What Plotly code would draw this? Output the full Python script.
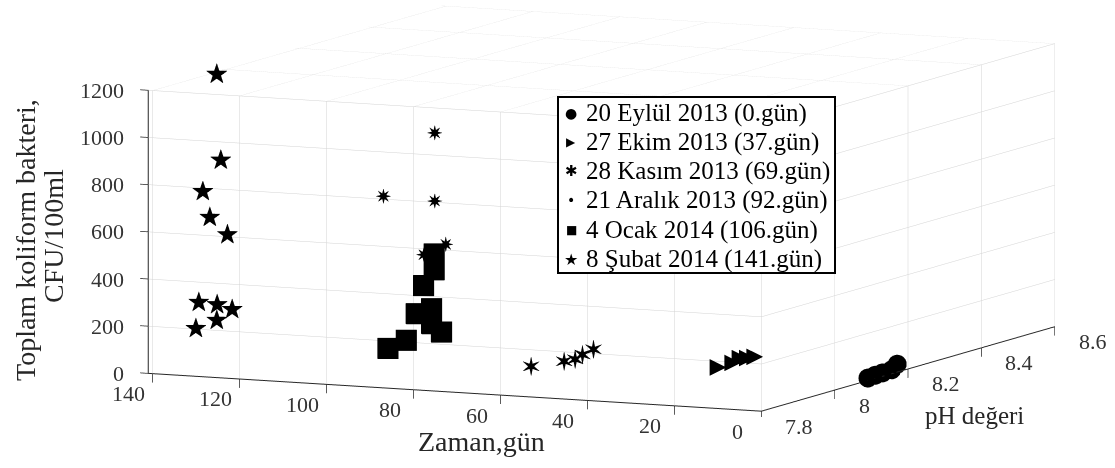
import plotly.graph_objects as go

FONT = "Liberation Serif"
GLYPH_FONT = "DejaVu Sans"
W, H = 1115, 468

# Sampling days (Zaman, gün) for each campaign
t_d0 = [0, 0, 0, 0, 0]
t_d37 = [37, 37, 37, 37, 37]
t_d69 = [69, 69, 69, 69, 69]
t_d92 = [92, 92, 92, 92, 92]
t_d106 = [106, 106, 106, 106, 106, 106, 106, 106, 106]
t_d141 = [141, 141, 141, 141, 141, 141, 141, 141, 141, 141]

# pH values
ph_d0 = [8.09, 8.11, 8.13, 8.155, 8.17]
ph_d37 = [8.12, 8.16, 8.18, 8.20, 8.22]
ph_d69 = [7.99, 8.08, 8.11, 8.13, 8.16]
ph_d92 = [8.00, 7.86, 8.00, 8.03, 7.97]
ph_d106 = [8.164, 8.164, 8.135, 8.115, 8.157, 8.157, 8.184, 8.088, 8.038]
ph_d141 = [7.986, 7.997, 7.948, 7.967, 8.015, 7.937, 7.987, 8.028, 7.986, 7.929]

# Total coliform counts (CFU/100ml)
cfu_d0 = [12, 15, 16, 18, 35]
cfu_d37 = [1, 2, 13, 5, 1]
cfu_d69 = [27, 8, 3, 14, 23]
cfu_d92 = [986, 780, 697, 500, 483]
cfu_d106 = [385, 318, 264, 154, 156, 93, 45, 53, 41]
cfu_d141 = [1190, 821, 710, 592, 497, 245, 213, 174, 147, 138]

legend_names = [
    "20 Eylül 2013 (0.gün)",
    "27 Ekim 2013 (37.gün)",
    "28 Kasım 2013 (69.gün)",
    "21 Aralık 2013 (92.gün)",
    "4 Ocak 2014 (106.gün)",
    "8 Şubat 2014 (141.gün)",
]
legend_glyphs = ["●", "▶", "✱", "•", "■", "★"]
legend_glyph_sizes = [14, 12, 15, 14, 12, 16]

time_ticks = [0, 20, 40, 60, 80, 100, 120, 140]
time_tick_text = ["0", "20", "40", "60", "80", "100", "120", "140"]
ph_ticks = [7.8, 8.0, 8.2, 8.4, 8.6]
ph_tick_text = ["7.8", "8", "8.2", "8.4", "8.6"]
cfu_ticks = [0, 200, 400, 600, 800, 1000, 1200]
cfu_tick_text = ["0", "200", "400", "600", "800", "1000", "1200"]

T_RANGE = [0, 141]
PH_RANGE = [7.8, 8.6]
CFU_RANGE = [0, 1200]

fig = go.Figure()

# 3D marks: native glyphs where scatter3d offers them, text glyphs otherwise
glyph_text = dict(mode="text", textposition="middle center", showlegend=False)
fig.add_trace(go.Scatter3d(x=t_d0, y=ph_d0, z=cfu_d0, mode="markers",
                           marker=dict(symbol="circle", size=11, color="black"),
                           name=legend_names[0], showlegend=False))
fig.add_trace(go.Scatter3d(x=t_d37, y=ph_d37, z=cfu_d37, text=["▶"] * len(t_d37),
                           textfont=dict(family=GLYPH_FONT, size=22, color="black"),
                           name=legend_names[1], **glyph_text))
fig.add_trace(go.Scatter3d(x=t_d69, y=ph_d69, z=cfu_d69, text=["✶"] * len(t_d69),
                           textfont=dict(family=GLYPH_FONT, size=27, color="black"),
                           name=legend_names[2], **glyph_text))
fig.add_trace(go.Scatter3d(x=t_d92, y=ph_d92, z=cfu_d92, text=["✷"] * len(t_d92),
                           textfont=dict(family=GLYPH_FONT, size=21, color="black"),
                           name=legend_names[3], **glyph_text))
fig.add_trace(go.Scatter3d(x=t_d106, y=ph_d106, z=cfu_d106, mode="markers",
                           marker=dict(symbol="square", size=11, color="black"),
                           name=legend_names[4], showlegend=False))
fig.add_trace(go.Scatter3d(x=t_d141, y=ph_d141, z=cfu_d141, text=["★"] * len(t_d141),
                           textfont=dict(family=GLYPH_FONT, size=28, color="black"),
                           name=legend_names[5], **glyph_text))

axis_common = dict(
    showbackground=False,
    showgrid=True,
    gridcolor="#d3d3d3",
    gridwidth=1,
    showline=True,
    linecolor="#262626",
    linewidth=2,
    ticks="outside",
    ticklen=9,
    tickwidth=1.5,
    tickcolor="#262626",
    showticklabels=False,
    zeroline=False,
    showspikes=False,
    title=dict(text=""),
)

# Tick labels anchored at the tick positions in data space
tick_font = dict(family=FONT, size=22, color="#333333")
scene_annotations = []
for tv, tt in zip(time_ticks, time_tick_text):
    scene_annotations.append(dict(x=tv, y=PH_RANGE[0], z=CFU_RANGE[0], text=tt,
                                  showarrow=False, xanchor="center", yanchor="middle",
                                  xshift=-24, yshift=-20, font=tick_font))
for pv, pt in zip(ph_ticks, ph_tick_text):
    scene_annotations.append(dict(x=T_RANGE[0], y=pv, z=CFU_RANGE[0], text=pt,
                                  showarrow=False, xanchor="left", yanchor="middle",
                                  xshift=22, yshift=-15, font=tick_font))
for cv, ct in zip(cfu_ticks, cfu_tick_text):
    scene_annotations.append(dict(x=T_RANGE[1], y=PH_RANGE[0], z=cv, text=ct,
                                  showarrow=False, xanchor="right", yanchor="middle",
                                  xshift=-22, yshift=0, font=tick_font))

# Legend box with one row per sampling campaign
box_l, box_r, box_t, box_b = 557, 836, 96, 274
row_y = [113, 142, 171, 200, 230, 259]
annotations = [
    dict(text=" ", xref="paper", yref="paper",
         x=(box_l + box_r) / 2 / W, y=1 - (box_t + box_b) / 2 / H,
         xanchor="center", yanchor="middle", showarrow=False,
         width=box_r - box_l - 4, height=box_b - box_t - 4, borderpad=0,
         bgcolor="white", bordercolor="black", borderwidth=2),
]
for yy, glyph, gsz, name in zip(row_y, legend_glyphs, legend_glyph_sizes, legend_names):
    annotations.append(dict(text=glyph, xref="paper", yref="paper",
                            x=571 / W, y=1 - yy / H, xanchor="center", yanchor="middle",
                            showarrow=False,
                            font=dict(family=GLYPH_FONT, size=gsz, color="black")))
    annotations.append(dict(text=name, xref="paper", yref="paper",
                            x=584 / W, y=1 - yy / H, xanchor="left", yanchor="middle",
                            showarrow=False,
                            font=dict(family=FONT, size=25, color="black")))

# Axis titles
title_font = dict(family=FONT, size=28, color="#262626")
annotations += [
    dict(text="Toplam koliform bakteri,", xref="paper", yref="paper",
         x=26 / W, y=1 - 240 / H, textangle=-90, showarrow=False,
         xanchor="center", yanchor="middle", font=title_font),
    dict(text="CFU/100ml", xref="paper", yref="paper",
         x=53 / W, y=1 - 236 / H, textangle=-90, showarrow=False,
         xanchor="center", yanchor="middle", font=title_font),
    dict(text="Zaman,gün", xref="paper", yref="paper",
         x=481 / W, y=1 - 441 / H, showarrow=False,
         xanchor="center", yanchor="middle", font=title_font),
    dict(text="pH değeri", xref="paper", yref="paper",
         x=974 / W, y=1 - 415 / H, showarrow=False,
         xanchor="center", yanchor="middle",
         font=dict(family=FONT, size=25, color="#262626")),
]

fig.update_layout(
    width=W,
    height=H,
    margin=dict(l=0, r=0, t=0, b=0),
    paper_bgcolor="white",
    plot_bgcolor="white",
    font=dict(family=FONT, color="black"),
    showlegend=False,
    scene=dict(
        domain=dict(x=[0.0995, 0.9795], y=[0.109, 1.0]),
        aspectmode="manual",
        aspectratio=dict(x=3.24, y=3.35, z=1.37),
        xaxis=dict(axis_common, range=T_RANGE, tickvals=time_ticks),
        yaxis=dict(axis_common, range=PH_RANGE, tickvals=ph_ticks),
        zaxis=dict(axis_common, range=CFU_RANGE, tickvals=cfu_ticks),
        camera=dict(
            eye=dict(x=1.665, y=3.598, z=-0.533),
            up=dict(x=0, y=0, z=1),
            center=dict(x=0, y=0, z=0),
            projection=dict(type="orthographic"),
        ),
        annotations=scene_annotations,
    ),
    annotations=annotations,
)

fig.write_html("out.html")
